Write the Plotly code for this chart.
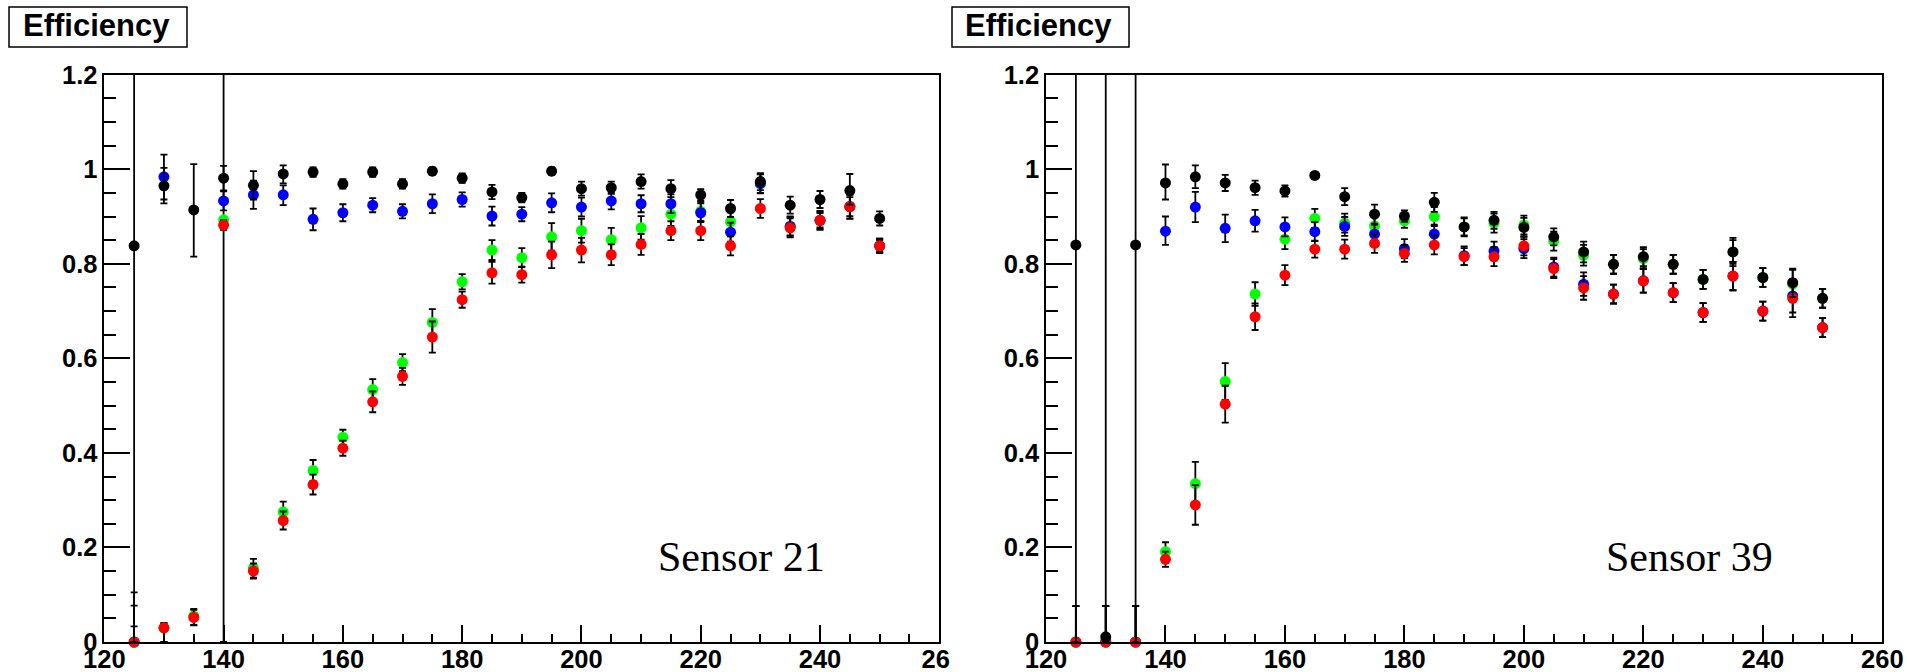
import plotly.graph_objects as go

# ---------------- data ----------------
x_vals = [125, 130, 135, 140, 145, 150, 155, 160, 165, 170, 175, 180, 185,
          190, 195, 200, 205, 210, 215, 220, 225, 230, 235, 240, 245, 250]

# Sensor 21 (left panel)
L_green = [0.0, 0.030, 0.055, 0.893, 0.156, 0.275, 0.363, 0.433, 0.534, 0.591, 0.676, 0.762, 0.829,
           0.813, 0.857, 0.870, 0.851, 0.876, 0.905, 0.911, 0.889, 0.969, 0.880, 0.892, 0.921, 0.838]
L_green_ep = [0.077, 0.010, 0.015, 0.500, 0.020, 0.022, 0.022, 0.016, 0.022, 0.018, 0.028, 0.016, 0.021,
              0.020, 0.029, 0.025, 0.025, 0.025, 0.025, 0.020, 0.020, 0.020, 0.020, 0.018, 0.025, 0.015]
L_green_em = [0.0, 0.030, 0.020, 0.893, 0.020, 0.022, 0.022, 0.016, 0.022, 0.018, 0.028, 0.016, 0.021,
              0.020, 0.029, 0.025, 0.025, 0.025, 0.025, 0.020, 0.020, 0.020, 0.020, 0.018, 0.025, 0.015]

L_blue = [0.0, 0.984, None, 0.933, 0.946, 0.946, 0.894, 0.908, 0.924, 0.911, 0.927, 0.936, 0.901,
          0.905, 0.929, 0.920, 0.933, 0.927, 0.927, 0.908, 0.867, 0.970, 0.879, 0.892, 0.921, 0.838]
L_blue_ep = [0.033, 0.047, 0.0, 0.020, 0.030, 0.020, 0.023, 0.018, 0.015, 0.015, 0.020, 0.015, 0.020,
             0.015, 0.020, 0.020, 0.018, 0.018, 0.020, 0.020, 0.020, 0.020, 0.020, 0.020, 0.020, 0.015]
L_blue_em = [0.0, 0.048, 0.0, 0.020, 0.030, 0.022, 0.023, 0.018, 0.015, 0.015, 0.020, 0.015, 0.020,
             0.015, 0.020, 0.020, 0.018, 0.018, 0.020, 0.020, 0.020, 0.020, 0.020, 0.020, 0.020, 0.015]

L_red = [0.0, 0.030, 0.052, 0.882, 0.150, 0.257, 0.333, 0.410, 0.508, 0.562, 0.645, 0.724, 0.781,
         0.777, 0.819, 0.829, 0.819, 0.841, 0.870, 0.870, 0.838, 0.917, 0.876, 0.892, 0.921, 0.838]
L_red_ep = [0.105, 0.010, 0.016, 0.010, 0.016, 0.019, 0.021, 0.016, 0.022, 0.018, 0.033, 0.017, 0.023,
            0.017, 0.028, 0.026, 0.022, 0.022, 0.020, 0.020, 0.020, 0.020, 0.020, 0.015, 0.026, 0.012]
L_red_em = [0.0, 0.030, 0.016, 0.010, 0.016, 0.019, 0.021, 0.016, 0.022, 0.018, 0.033, 0.017, 0.023,
            0.017, 0.028, 0.026, 0.022, 0.022, 0.020, 0.020, 0.020, 0.020, 0.020, 0.015, 0.026, 0.012]

L_black = [0.838, 0.965, 0.914, 0.981, 0.966, 0.990, 0.994, 0.969, 0.994, 0.969, 0.996, 0.981, 0.952,
           0.940, 0.996, 0.959, 0.961, 0.974, 0.959, 0.946, 0.917, 0.974, 0.924, 0.936, 0.955, 0.896]
L_black_ep = [0.840, 0.038, 0.097, 0.026, 0.030, 0.018, 0.010, 0.010, 0.010, 0.010, 0.008, 0.010, 0.015,
              0.010, 0.008, 0.015, 0.013, 0.015, 0.018, 0.012, 0.018, 0.018, 0.018, 0.018, 0.035, 0.015]
L_black_em = [0.838, 0.037, 0.099, 0.026, 0.030, 0.020, 0.010, 0.010, 0.010, 0.010, 0.008, 0.010, 0.015,
              0.010, 0.008, 0.015, 0.013, 0.015, 0.018, 0.012, 0.018, 0.018, 0.018, 0.018, 0.030, 0.015]

# Sensor 39 (right panel)
R_green = [0.0, 0.0, 0.0, 0.191, 0.335, 0.551, 0.736, 0.852, 0.896, 0.886, 0.880, 0.891, 0.900,
           0.878, 0.886, 0.882, 0.848, 0.818, 0.799, 0.811, 0.799, 0.767, 0.825, 0.771, 0.757, 0.727]
R_green_ep = [0.076, 0.076, 0.076, 0.020, 0.046, 0.039, 0.025, 0.021, 0.020, 0.020, 0.020, 0.015, 0.020,
              0.020, 0.020, 0.020, 0.020, 0.022, 0.020, 0.020, 0.020, 0.020, 0.025, 0.020, 0.030, 0.020]
R_green_em = [0.0, 0.0, 0.0, 0.020, 0.046, 0.039, 0.025, 0.021, 0.020, 0.020, 0.020, 0.015, 0.020,
              0.020, 0.020, 0.020, 0.020, 0.022, 0.020, 0.020, 0.020, 0.020, 0.025, 0.020, 0.030, 0.020]

R_blue = [0.0, 0.0, 0.0, 0.869, 0.920, 0.875, 0.891, 0.878, 0.868, 0.879, 0.863, 0.832, 0.863,
          0.817, 0.827, 0.832, 0.793, 0.757, 0.736, 0.764, 0.739, 0.697, 0.774, 0.700, 0.732, 0.665]
R_blue_ep = [0.076, 0.076, 0.076, 0.031, 0.032, 0.029, 0.023, 0.020, 0.020, 0.020, 0.020, 0.020, 0.020,
             0.020, 0.020, 0.020, 0.020, 0.025, 0.020, 0.025, 0.020, 0.020, 0.030, 0.020, 0.035, 0.020]
R_blue_em = [0.0, 0.0, 0.0, 0.029, 0.032, 0.029, 0.023, 0.020, 0.020, 0.020, 0.020, 0.020, 0.020,
             0.020, 0.020, 0.020, 0.020, 0.025, 0.020, 0.025, 0.020, 0.020, 0.030, 0.020, 0.035, 0.020]

R_red = [0.0, 0.0, 0.0, 0.175, 0.290, 0.503, 0.688, 0.776, 0.831, 0.831, 0.843, 0.822, 0.840,
         0.815, 0.815, 0.838, 0.790, 0.749, 0.736, 0.764, 0.739, 0.697, 0.774, 0.700, 0.727, 0.665]
R_red_ep = [0.076, 0.076, 0.076, 0.016, 0.042, 0.039, 0.028, 0.021, 0.018, 0.020, 0.020, 0.018, 0.020,
            0.018, 0.020, 0.020, 0.020, 0.025, 0.020, 0.025, 0.020, 0.020, 0.030, 0.020, 0.040, 0.020]
R_red_em = [0.0, 0.0, 0.0, 0.016, 0.042, 0.039, 0.028, 0.021, 0.018, 0.020, 0.020, 0.018, 0.020,
            0.018, 0.020, 0.020, 0.020, 0.025, 0.020, 0.025, 0.020, 0.020, 0.030, 0.020, 0.040, 0.020]

R_black = [0.840, 0.011, 0.840, 0.971, 0.984, 0.971, 0.961, 0.954, 0.987, 0.942, 0.905, 0.901, 0.930,
           0.878, 0.892, 0.877, 0.857, 0.825, 0.799, 0.815, 0.799, 0.767, 0.825, 0.771, 0.760, 0.727]
R_black_ep = [0.840, 1.300, 0.840, 0.039, 0.024, 0.017, 0.015, 0.012, 0.006, 0.018, 0.020, 0.012, 0.020,
              0.018, 0.018, 0.020, 0.018, 0.022, 0.020, 0.020, 0.020, 0.020, 0.030, 0.020, 0.030, 0.020]
R_black_em = [0.840, 0.011, 0.840, 0.035, 0.024, 0.017, 0.015, 0.012, 0.006, 0.018, 0.020, 0.012, 0.020,
              0.018, 0.018, 0.020, 0.018, 0.022, 0.020, 0.020, 0.020, 0.020, 0.030, 0.020, 0.030, 0.020]

x_tickvals = [120, 140, 160, 180, 200, 220, 240, 260]
x_ticktext_left = ["120", "140", "160", "180", "200", "220", "240", "26\u00a0"]
x_ticktext_right = ["120", "140", "160", "180", "200", "220", "240", "260"]
panel_labels = ["Sensor 21", "Sensor 39"]
y_title = "Efficiency"

colors = {"green": "#00ff00", "blue": "#0000ff", "red": "#ff0000", "black": "#000000"}

# ---------------- figure ----------------
W, H = 1907, 672
fig = go.Figure()


def add_series(y, ep, em, color, xa, ya):
    # error bars (clipped to plot area)
    fig.add_trace(go.Scatter(
        x=x_vals, y=y, mode="markers", xaxis=xa, yaxis=ya,
        marker=dict(size=2, color="rgba(0,0,0,0)"),
        error_y=dict(type="data", array=ep, arrayminus=em, symmetric=False,
                     color="black", thickness=1.8, width=3.5),
        cliponaxis=True, showlegend=False, hoverinfo="skip"))
    # markers (not clipped)
    fig.add_trace(go.Scatter(
        x=x_vals, y=y, mode="markers", xaxis=xa, yaxis=ya,
        marker=dict(size=11, color=color, line=dict(width=0)),
        cliponaxis=False, showlegend=False))


panels = [
    ("x", "y", [(L_green, L_green_ep, L_green_em, colors["green"]),
                (L_blue, L_blue_ep, L_blue_em, colors["blue"]),
                (L_red, L_red_ep, L_red_em, colors["red"]),
                (L_black, L_black_ep, L_black_em, colors["black"])]),
    ("x2", "y2", [(R_green, R_green_ep, R_green_em, colors["green"]),
                  (R_blue, R_blue_ep, R_blue_em, colors["blue"]),
                  (R_red, R_red_ep, R_red_em, colors["red"]),
                  (R_black, R_black_ep, R_black_em, colors["black"])]),
]
for xa, ya, series in panels:
    for y, ep, em, c in series:
        add_series(y, ep, em, c, xa, ya)

tickfont = dict(family="Liberation Sans, Arial, sans-serif", size=25.5, color="black", weight="bold")

ydom = [1 - 642 / H, 1 - 74.7 / H]
xdomL = [104.3 / W, 939.3 / W]
xdomR = [1046 / W, 1882.3 / W]


def xaxis(dom, anchor, ticktext):
    return dict(domain=dom, anchor=anchor, range=[120, 260], tickmode="array",
                tickvals=x_tickvals, ticktext=ticktext, automargin=False,
                ticklabelstandoff=-6,
                ticks="inside", ticklen=17, tickwidth=1.5, tickcolor="black",
                minor=dict(tickmode="linear", tick0=120, dtick=5, ticks="inside",
                           ticklen=8, tickwidth=1.5, tickcolor="black"),
                showline=True, linecolor="black", linewidth=1.5, mirror=True,
                showgrid=False, zeroline=False, tickfont=tickfont)


def yaxis(anchor):
    return dict(domain=ydom, anchor=anchor, range=[0, 1.2], tickmode="linear",
                tick0=0, dtick=0.2, automargin=False,
                ticks="inside", ticklen=26, tickwidth=1.5, tickcolor="black",
                minor=dict(tickmode="linear", tick0=0, dtick=0.05, ticks="inside",
                           ticklen=12, tickwidth=1.5, tickcolor="black"),
                showline=True, linecolor="black", linewidth=1.5, mirror=True,
                showgrid=False, zeroline=False, tickfont=tickfont)


fig.update_layout(
    width=W, height=H, autosize=False,
    margin=dict(l=0, r=0, t=0, b=0, pad=0, autoexpand=False),
    paper_bgcolor="white", plot_bgcolor="white",
    xaxis=xaxis(xdomL, "y", x_ticktext_left),
    yaxis=yaxis("x"),
    xaxis2=xaxis(xdomR, "y2", x_ticktext_right),
    yaxis2=yaxis("x2"),
)

# "Efficiency" boxes
boxes = [(9, 187, 96.7), (952, 1129, 1038.7)]
for x0, x1, xc in boxes:
    fig.add_shape(type="rect", xref="paper", yref="paper",
                  x0=x0 / W, x1=x1 / W, y0=1 - 47 / H, y1=1 - 7 / H,
                  line=dict(color="black", width=1.5), fillcolor="white", layer="above")
    fig.add_annotation(x=xc / W, y=1 - 26 / H, xref="paper", yref="paper",
                       text=y_title, showarrow=False, xanchor="center", yanchor="middle",
                       font=dict(family="Liberation Sans, Arial, sans-serif", size=31,
                                 color="black", weight="bold"))

# Sensor labels
for lbl, xl in zip(panel_labels, [655.7, 1604]):
    fig.add_annotation(x=xl / W, y=1 - 557 / H, xref="paper", yref="paper",
                       text=lbl, showarrow=False, xanchor="left", yanchor="middle",
                       font=dict(family="Liberation Serif, Times New Roman, serif",
                                 size=42, color="black"))

fig.write_html("out.html")
